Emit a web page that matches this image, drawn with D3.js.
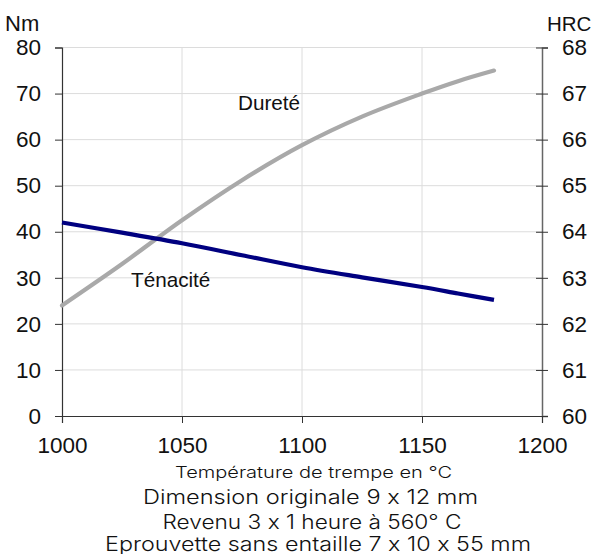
<!DOCTYPE html>
<html>
<head>
<meta charset="utf-8">
<script src="https://cdn.jsdelivr.net/npm/d3@7"></script>
<style>
  html, body { margin: 0; padding: 0; background: #fff; }
  svg { display: block; }
  .cap { font-feature-settings: "calt" 0, "liga" 0; font-variant-ligatures: none; }
</style>
</head>
<body>
<svg id="chart" width="592" height="554"></svg>
<script>
// ---- data ----
const temps    = [1000, 1025, 1050, 1075, 1100, 1125, 1150, 1165, 1180];
const tenacite = [42.0, 39.8, 37.5, 34.9, 32.3, 30.1, 28.0, 26.6, 25.2]; // Nm (left axis)
const durete   = [62.4, 63.3, 64.25, 65.12, 65.88, 66.5, 67.0, 67.27, 67.5]; // HRC (right axis)
const xTicks = [1000, 1050, 1100, 1150, 1200];
const yLeftTicks = [0, 10, 20, 30, 40, 50, 60, 70, 80];
const yRightTicks = [60, 61, 62, 63, 64, 65, 66, 67, 68];
const captions = [
  "Température de trempe en °C",
  "Dimension originale 9 x 12 mm",
  "Revenu 3 x 1 heure à 560° C",
  "Eprouvette sans entaille 7 x 10 x 55 mm"
];

// ---- layout ----
const L = 62, R = 542, T = 47.5, B = 416;
const svg = d3.select("#chart");
const x = d3.scaleLinear().domain([1000, 1200]).range([L, R]);
const yL = d3.scaleLinear().domain([0, 80]).range([B, T]);
const yR = d3.scaleLinear().domain([60, 68]).range([B, T]);
const tickFont = "Liberation Sans, Arial, sans-serif";
const tickSize = 22.5;

// grid
const grid = svg.append("g");
grid.selectAll("line.h").data(yLeftTicks.slice(1)).join("line")
  .attr("x1", L).attr("x2", R).attr("y1", d => yL(d)).attr("y2", d => yL(d))
  .attr("stroke", "#dcdcdc").attr("stroke-width", 1);
grid.selectAll("line.v").data(xTicks.slice(1, -1)).join("line")
  .attr("x1", d => x(d)).attr("x2", d => x(d)).attr("y1", T).attr("y2", B)
  .attr("stroke", "#dcdcdc").attr("stroke-width", 1);

// left axis
const gl = svg.append("g").attr("transform", `translate(${L},0)`)
  .call(d3.axisLeft(yL).tickValues(yLeftTicks).tickSize(7).tickPadding(14));
gl.select(".domain").attr("stroke", "#333").attr("stroke-width", 1.2);
gl.selectAll(".tick line").attr("stroke", "#333");
gl.selectAll(".tick text").attr("font-family", tickFont).attr("font-size", tickSize).attr("fill", "#111");

// right axis
const gr = svg.append("g").attr("transform", `translate(${R},0)`)
  .call(d3.axisRight(yR).tickValues(yRightTicks).tickSize(6).tickPadding(14));
gr.select(".domain").attr("stroke", "#666").attr("stroke-width", 1.5);
gr.selectAll(".tick line").attr("stroke", "#333").attr("x1", -6);
gr.selectAll(".tick text").attr("font-family", tickFont).attr("font-size", tickSize).attr("fill", "#111");

// bottom axis
const gb = svg.append("g").attr("transform", `translate(0,${B})`)
  .call(d3.axisBottom(x).tickValues(xTicks).tickFormat(d3.format("d")).tickSize(7).tickPadding(14));
gb.select(".domain").attr("stroke", "#333").attr("stroke-width", 1.2);
gb.selectAll(".tick line").attr("stroke", "#333");
gb.selectAll(".tick text").attr("font-family", tickFont).attr("font-size", tickSize).attr("fill", "#111");

// axis units
svg.append("text").attr("x", 5).attr("y", 31).text("Nm")
  .attr("font-family", tickFont).attr("font-size", 22).attr("fill", "#111");
svg.append("text").attr("x", 547).attr("y", 31).text("HRC")
  .attr("font-family", tickFont).attr("font-size", 20.5).attr("fill", "#111");

// lines
const lineL = d3.line().x((d, i) => x(temps[i])).y(d => yL(d)).curve(d3.curveCatmullRom.alpha(0.5));
const lineR = d3.line().x((d, i) => x(temps[i])).y(d => yR(d)).curve(d3.curveCatmullRom.alpha(0.5));
svg.append("path").datum(durete).attr("d", lineR)
  .attr("fill", "none").attr("stroke", "#a9a9a9").attr("stroke-width", 4.2).attr("stroke-linecap", "round");
svg.append("path").datum(tenacite).attr("d", lineL)
  .attr("fill", "none").attr("stroke", "#000080").attr("stroke-width", 4.2);

// series labels
svg.append("text").attr("x", 238).attr("y", 110).text("Dureté")
  .attr("font-family", tickFont).attr("font-size", 20.7).attr("fill", "#111");
svg.append("text").attr("x", 131).attr("y", 287).text("Ténacité")
  .attr("font-family", tickFont).attr("font-size", 20.7).attr("fill", "#111");

// captions
const capFont = "Inter, 'Open Sans', sans-serif";
const capSpec = [
  {cx: 313.5, y: 477.5, size: 16, w: 277},
  {cx: 310.5, y: 504, size: 19.5, w: 335},
  {cx: 312, y: 528.5, size: 19.5, w: 299},
  {cx: 318, y: 550.5, size: 19.5, w: 426}
];
svg.selectAll("text.cap").data(captions).join("text")
  .attr("class", "cap")
  .attr("x", (d, i) => capSpec[i].cx).attr("y", (d, i) => capSpec[i].y)
  .attr("text-anchor", "middle")
  .attr("font-family", capFont).attr("font-size", (d, i) => capSpec[i].size)
  .attr("font-weight", 300)
  .attr("textLength", (d, i) => capSpec[i].w).attr("lengthAdjust", "spacingAndGlyphs")
  .attr("fill", "#111")
  .text(d => d);
</script>
</body>
</html>
